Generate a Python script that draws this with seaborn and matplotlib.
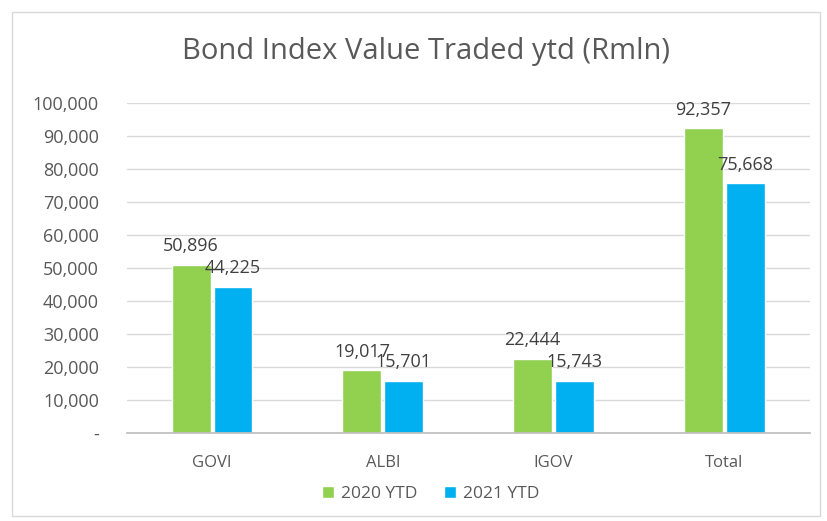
import pandas as pd
import matplotlib.pyplot as plt
import seaborn as sns
from matplotlib.patches import Rectangle
from matplotlib.ticker import FuncFormatter

# ========== DATA ==========
categories = ["GOVI", "ALBI", "IGOV", "Total"]
values_2020 = [50896, 19017, 22444, 92357]
values_2021 = [44225, 15701, 15743, 75668]
series_names = ["2020 YTD", "2021 YTD"]
y_ticks = [0, 10000, 20000, 30000, 40000, 50000, 60000, 70000, 80000, 90000, 100000]

df = pd.DataFrame({
    "category": categories * 2,
    "value": values_2020 + values_2021,
    "series": [series_names[0]] * 4 + [series_names[1]] * 4,
})

# ========== STYLE ==========
sns.set_theme(style="white")
plt.rcParams["font.family"] = ["Open Sans", "DejaVu Sans"]
text_col = "#595959"
colors = {"2020 YTD": "#92D050", "2021 YTD": "#00B0F0"}

fig = plt.figure(figsize=(8.28, 5.21), dpi=100)
ax = fig.add_axes([0.153, 0.169, 0.825, 0.633])

# chart border
fig.patches.append(Rectangle((0.014, 0.01), 0.976, 0.967, transform=fig.transFigure,
                             fill=False, edgecolor="#d9d9d9", linewidth=1))

sns.barplot(data=df, x="category", y="value", hue="series", palette=colors,
            width=0.49, gap=0.07, saturation=1, ax=ax, legend=True)

ax.set_ylim(0, 100000)
ax.set_yticks(y_ticks)
ax.yaxis.set_major_formatter(FuncFormatter(lambda v, p: "-" if v == 0 else f"{int(v):,}"))
ax.grid(axis="y", color="#d9d9d9", linewidth=1)
ax.set_axisbelow(True)
for s in ["top", "right", "left"]:
    ax.spines[s].set_visible(False)
ax.spines["bottom"].set_color("#bfbfbf")
ax.tick_params(axis="both", length=0, colors=text_col)
ax.tick_params(axis="y", pad=20, labelsize=13)
ax.tick_params(axis="x", pad=16, labelsize=12)
ax.set_xlabel("")
ax.set_ylabel("")

# data labels
for cont in ax.containers:
    ax.bar_label(cont, labels=[f"{int(v):,}" for v in cont.datavalues],
                 padding=7, fontsize=13, color="#404040")

fig.text(426 / 828, 1 - 52 / 521, "Bond Index Value Traded ytd (Rmln)",
         fontsize=21, color=text_col, ha="center", va="center")

ax.legend(loc="center", bbox_to_anchor=(0.445, -0.185), ncol=2, frameon=False,
          fontsize=12.5, labelcolor=text_col, handlelength=0.7, handleheight=0.7,
          handletextpad=0.4, columnspacing=1.5)

plt.savefig("out.png", dpi=100)
plt.close()
